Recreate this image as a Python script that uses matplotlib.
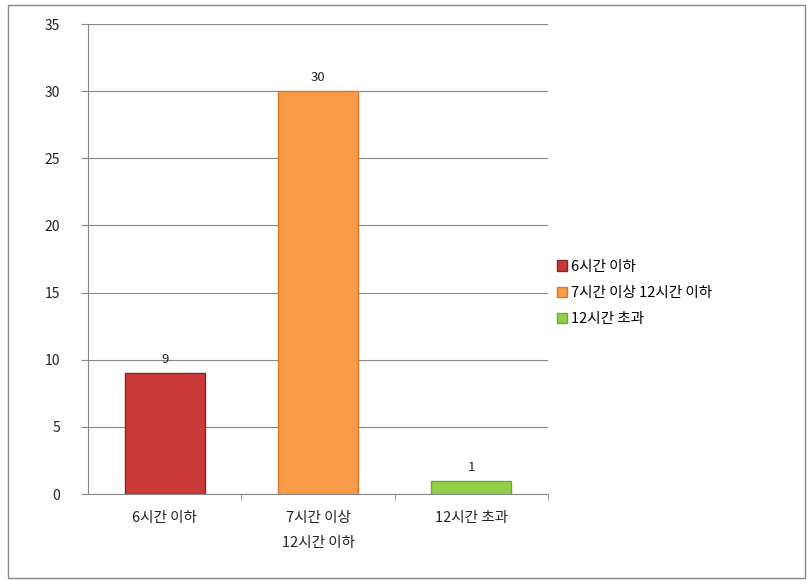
import matplotlib.pyplot as plt
from matplotlib.patches import Rectangle

plt.rcParams['font.family'] = ['Noto Sans CJK KR', 'DejaVu Sans']

categories = ['6시간 이하', '7시간 이상\n12시간 이하', '12시간 초과']
legend_labels = ['6시간 이하', '7시간 이상 12시간 이하', '12시간 초과']
counts = [9, 30, 1]
colors = ['#C93A38', '#F79B46', '#92CF4A']
edges = ['#8E2323', '#D97A2A', '#6FA832']

W, H = 807, 581
fig = plt.figure(figsize=(W / 100, H / 100), dpi=100)
fig.patches.append(Rectangle((8 / W, 3 / H), 797 / W, 573 / H, transform=fig.transFigure,
                             fill=False, edgecolor='#888888', linewidth=1))

ax = fig.add_axes([88 / W, (H - 494) / H, 460 / W, 470 / H])
x = list(range(len(counts)))
bars = ax.bar(x, counts, width=0.52, color=colors, edgecolor=edges, linewidth=1, zorder=3,
              label=legend_labels)

for xi, v in zip(x, counts):
    ax.text(xi, v + 0.5, str(v), ha='center', va='bottom', fontsize=9.5, color='#222222')

ax.set_xlim(-0.5, 2.5)
ax.set_ylim(0, 35)
ax.set_yticks(range(0, 36, 5))
ax.set_xticks(x)
ax.set_xticklabels(categories, fontsize=10.5, color='#222222', linespacing=2.0)
ax.set_xticks([0.5, 1.5, 2.5], minor=True)
ax.tick_params(axis='x', which='major', length=0, pad=12)
ax.tick_params(axis='x', which='minor', length=4, color='#888888')
ax.tick_params(axis='y', length=5, color='#888888', labelsize=10, labelcolor='#222222', pad=15)
ax.grid(axis='y', color='#888888', linewidth=0.8, zorder=0)
for s in ['top', 'right']:
    ax.spines[s].set_visible(False)
for s in ['left', 'bottom']:
    ax.spines[s].set_color('#888888')

handles = [Rectangle((0, 0), 1, 1, facecolor=c, edgecolor=e) for c, e in zip(colors, edges)]
fig.legend(handles, legend_labels, loc='center left', bbox_to_anchor=(551 / W, (H - 293) / H),
           frameon=False, fontsize=10.5, handlelength=0.7, handleheight=0.7, handletextpad=0.3,
           labelspacing=0.85, borderaxespad=0)

fig.savefig('out.png', dpi=100)
